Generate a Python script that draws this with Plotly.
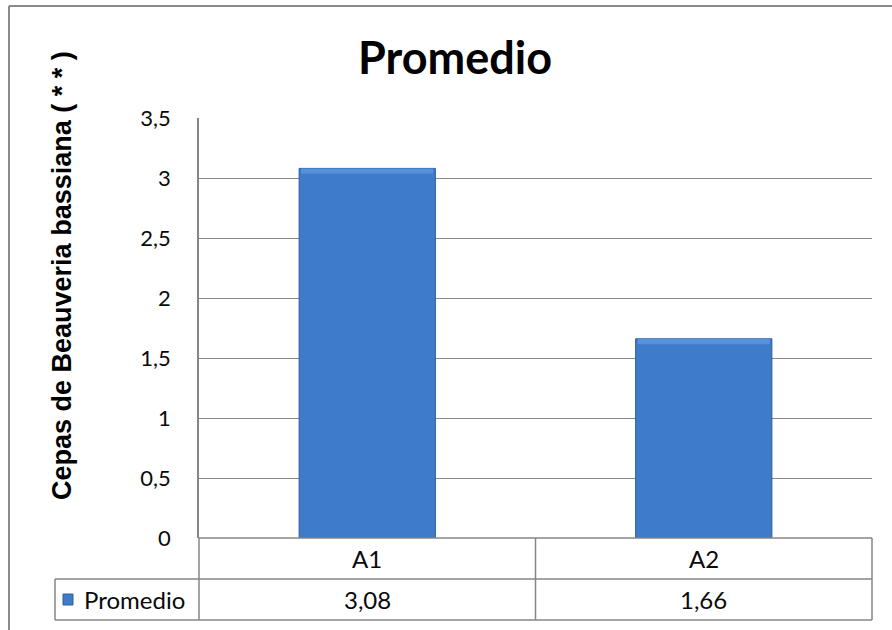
import plotly.graph_objects as go

# Data
categories = ["A1", "A2"]
promedio = [3.08, 1.66]
series_name = "Promedio"
chart_title = "Promedio"
y_title = "Cepas de Beauveria bassiana ( * * )"

# Canvas and plot-area geometry (pixels)
W, H = 892, 630
PL, PR, PT, PB = 199, 872, 118, 538   # plot area edges
ROW1_B, ROW2_B = 579, 620             # data-table row bottoms
KEY_L = 55                            # left edge of the series-name cell

GRID = "#868686"
BORDER = "#898989"
BAR = "#3E7CCB"
BAR_TOP = "#5592DA"
BAR_EDGE = "#2F5E9E"
BAR_WIDTH = 0.405
BEVEL = 0.045   # thickness of the top bevel band, in data units


def px_x(x):
    return (x - PL) / (PR - PL)


def px_y(y):
    return (PB - y) / (PB - PT)


def fmt(v):
    return f"{v:.2f}".replace(".", ",")


fig = go.Figure()
fig.add_trace(go.Bar(
    x=categories, y=promedio, name=series_name,
    marker=dict(color=BAR, line=dict(color=BAR_EDGE, width=1)),
    width=BAR_WIDTH, showlegend=False, hoverinfo="x+y",
))
# Bevel highlight: a light band along the top of each bar
fig.add_trace(go.Bar(
    x=categories, y=[BEVEL] * len(promedio),
    base=[v - BEVEL for v in promedio],
    marker=dict(color=BAR_TOP, line=dict(width=0)),
    width=BAR_WIDTH - 0.012, showlegend=False, hoverinfo="skip",
))

shapes = []


def line(x0, y0, x1, y1, color=GRID, width=1.5, xref="paper", yref="paper"):
    shapes.append(dict(type="line", xref=xref, yref=yref, x0=x0, y0=y0,
                       x1=x1, y1=y1, line=dict(color=color, width=width),
                       layer="above"))


# Outer chart border (runs off the right and bottom edges)
line(px_x(9), px_y(6), px_x(W + 20), px_y(6), color=BORDER, width=2)
line(px_x(9), px_y(6), px_x(9), px_y(H + 20), color=BORDER, width=2)

# Data table grid
line(0, 0, 1, 0)                                   # category row top / y = 0
line(px_x(KEY_L), px_y(ROW1_B), 1, px_y(ROW1_B))   # between rows
line(px_x(KEY_L), px_y(ROW2_B), 1, px_y(ROW2_B))   # table bottom
line(0, 0, 0, px_y(ROW2_B))                        # left of category columns
line(px_x(KEY_L), px_y(ROW1_B), px_x(KEY_L), px_y(ROW2_B))
line(1, 0, 1, px_y(ROW2_B))
for i in range(len(categories) - 1):
    line(i + 0.5, 0, i + 0.5, px_y(ROW2_B), xref="x")

# Legend key swatch inside the table
shapes.append(dict(type="rect", xref="paper", yref="paper",
                   x0=px_x(63), x1=px_x(73), y0=px_y(605), y1=px_y(594),
                   fillcolor=BAR, line=dict(color=BAR_EDGE, width=1),
                   layer="above"))

annotations = []
row1_y = px_y((PB + ROW1_B) / 2)
row2_y = px_y((ROW1_B + ROW2_B) / 2)
table_font = dict(family="Lato, Calibri, sans-serif", size=24, color="#0a0a0a")
for cat, v in zip(categories, promedio):
    annotations.append(dict(x=cat, y=row1_y, xref="x", yref="paper", text=cat,
                            showarrow=False, font=table_font,
                            xanchor="center", yanchor="middle"))
    annotations.append(dict(x=cat, y=row2_y, xref="x", yref="paper", text=fmt(v),
                            showarrow=False, font=table_font,
                            xanchor="center", yanchor="middle"))
annotations.append(dict(x=px_x(82), y=row2_y, xref="paper", yref="paper",
                        text=series_name, showarrow=False, font=table_font,
                        xanchor="left", yanchor="middle"))

# Chart title
annotations.append(dict(x=px_x(455), y=px_y(57), xref="paper", yref="paper",
                        text=f"<b>{chart_title}</b>", showarrow=False,
                        font=dict(family="Lato, Calibri, sans-serif", size=45,
                                  color="#000000"),
                        xanchor="center", yanchor="middle"))

# Vertical axis title
annotations.append(dict(x=px_x(62), y=px_y(276), xref="paper", yref="paper",
                        text=f"<b>{y_title}</b>", showarrow=False, textangle=-90,
                        font=dict(family="Liberation Sans, Arial, sans-serif",
                                  size=27, color="#000000"),
                        xanchor="center", yanchor="middle"))

fig.update_layout(
    width=W, height=H,
    margin=dict(l=PL, r=W - PR, t=PT, b=H - PB, pad=0),
    paper_bgcolor="white", plot_bgcolor="white",
    separators=",.",
    barmode="overlay",
    bargap=0.595,
    shapes=shapes,
    annotations=annotations,
    xaxis=dict(type="category", range=[-0.5, len(categories) - 0.5],
               showticklabels=False, showgrid=False, zeroline=False,
               showline=False, ticks="", automargin=False, fixedrange=True),
    yaxis=dict(range=[0, 3.5], dtick=0.5, tick0=0, showgrid=True,
               gridcolor=GRID, gridwidth=1.2, zeroline=False,
               showline=True, linecolor=GRID, linewidth=1.5, ticks="",
               ticklabelstandoff=22, automargin=False, fixedrange=True,
               tickfont=dict(family="Lato, Calibri, sans-serif", size=22,
                             color="#0a0a0a")),
)

fig.write_html("out.html")
